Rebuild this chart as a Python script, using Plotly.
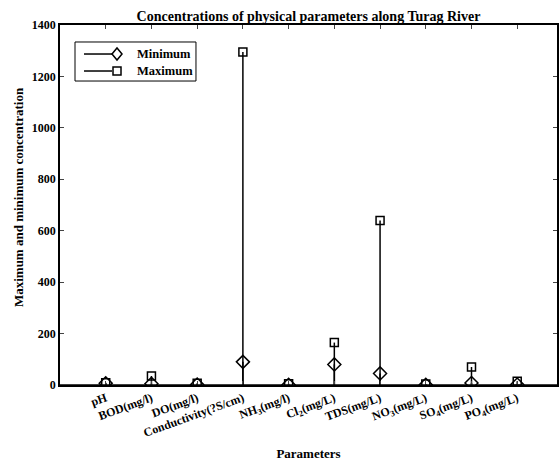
import plotly.graph_objects as go

categories = ["pH", "BOD(mg/l)", "DO(mg/l)", "Conductivity(?S/cm)", "NH<sub>3</sub>(mg/l)",
              "Cl<sub>2</sub>(mg/L)", "TDS(mg/L)", "NO<sub>3</sub>(mg/L)", "SO<sub>4</sub>(mg/L)", "PO<sub>4</sub>(mg/L)"]
minimum = [7, 5, 2, 90, 1, 80, 45, 1, 8, 2]
maximum = [8.5, 35, 7, 1295, 5, 165, 640, 4, 70, 15]
y_ticks = [0, 200, 400, 600, 800, 1000, 1200, 1400]
legend_names = ["Minimum", "Maximum"]

xs = list(range(1, len(categories) + 1))
FONT = "Liberation Serif"

def stems(vals):
    sx, sy = [], []
    for x, v in zip(xs, vals):
        sx += [x, x, None]
        sy += [0, v, None]
    return sx, sy

fig = go.Figure()
for name, vals, sym, size in [("Maximum", maximum, "square-open", 8), ("Minimum", minimum, "diamond-open", 10)]:
    sx, sy = stems(vals)
    fig.add_trace(go.Scatter(x=sx, y=sy, mode="lines", line=dict(color="black", width=1.5),
                             showlegend=False, hoverinfo="skip"))
    fig.add_trace(go.Scatter(x=xs, y=vals, mode="markers", showlegend=False, name=name,
                             marker=dict(symbol=sym, size=size, color="black", line=dict(width=1.5, color="black"))))

fig.add_shape(type="line", xref="x", yref="y", x0=0, x1=10.87, y0=0, y1=0, line=dict(color="black", width=1.5))

# Manual legend (box, line samples, marker glyphs, labels)
fig.add_shape(type="rect", xref="paper", yref="paper", x0=0.0302, x1=0.2736, y0=0.8444, y1=0.9528,
              line=dict(color="black", width=1), fillcolor="white", layer="above")
rows_y = [0.9194, 0.8722]
glyphs = ["M -5 0 L 0 6 L 5 0 L 0 -6 Z", "M -4 -4 L 4 -4 L 4 4 L -4 4 Z"]
for ry, glyph, label in zip(rows_y, glyphs, legend_names):
    fig.add_shape(type="line", xref="paper", yref="paper", x0=0.0483, x1=0.1047, y0=ry, y1=ry,
                  line=dict(color="black", width=1.5), layer="above")
    fig.add_shape(type="path", xref="paper", yref="paper", xsizemode="pixel", ysizemode="pixel",
                  xanchor=0.1147, yanchor=ry, path=glyph, fillcolor="white",
                  line=dict(color="black", width=1.5), layer="above")
    fig.add_annotation(x=0.1509, y=ry, xref="paper", yref="paper", xanchor="left", yanchor="middle",
                       text="<b>" + label + "</b>", showarrow=False, font=dict(size=12.5, family=FONT))

# Y-axis title
fig.add_annotation(x=-0.0845, y=0.522, xref="paper", yref="paper", xanchor="center", yanchor="middle",
                   textangle=-90, text="<b>Maximum and minimum concentration</b>", showarrow=False,
                   font=dict(size=13, family=FONT))

fig.update_layout(
    width=559, height=461,
    margin=dict(l=60, r=2, t=25, b=76),
    paper_bgcolor="white", plot_bgcolor="white",
    font=dict(family=FONT, color="black", size=12),
    title=dict(text="<b>Concentrations of physical parameters along Turag River</b>",
               x=0.5, xanchor="center", xref="paper", y=1, yref="paper", yanchor="bottom",
               pad=dict(b=4), font=dict(size=14, family=FONT)),
    showlegend=False,
    xaxis=dict(range=[0, 10.87], tickvals=xs, ticktext=["<b>" + c + "</b>" for c in categories],
               tickangle=-20, ticks="inside", ticklen=4, mirror="ticks", showline=True,
               linecolor="black", linewidth=1.5, showgrid=False, zeroline=False,
               tickfont=dict(size=12), automargin=False,
               title=dict(text="<b>Parameters</b>", standoff=14, font=dict(size=13))),
    yaxis=dict(range=[0, 1400], tickvals=y_ticks, ticktext=["<b>%d</b>" % v for v in y_ticks],
               ticks="inside", ticklen=4, mirror="ticks", showline=True,
               linecolor="black", linewidth=1.5, showgrid=False, zeroline=False,
               tickfont=dict(size=12), automargin=False),
)
fig.write_html("out.html")
